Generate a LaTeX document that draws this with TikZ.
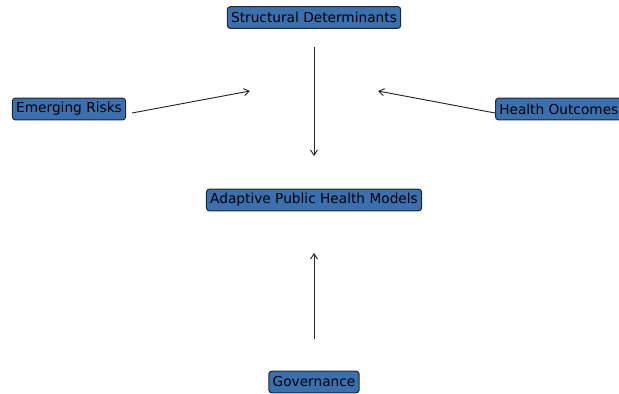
\documentclass[tikz,border=0pt]{standalone}
\usepackage{fontspec}
\setmainfont{DejaVu Sans}
\usetikzlibrary{arrows.meta}
\definecolor{boxblue}{RGB}{59,112,176}
\begin{document}
\begin{tikzpicture}[x=0.03cm,y=-0.03cm,
        factor/.style={draw=black!85,fill=boxblue,rounded corners=2.5pt,line width=0.9pt,
            inner xsep=3.2pt,inner ysep=0pt,minimum height=18.5pt,font=\fontsize{11.7pt}{14pt}\selectfont},
        link/.style={-{Straight Barb[length=4.5pt,width=6pt]},line width=0.8pt,black!85}]
        \useasboundingbox (0,0) rectangle (619,393);

        \node[factor] (struct) at (314,17.5) {Structural Determinants};
        \node[factor] (risks) at (69,109) {Emerging Risks};
        \node[factor,anchor=west] (outcomes) at (495,109) {Health Outcomes};
        \node[factor] (model) at (314,200) {Adaptive Public Health Models};
        \node[factor] (gov) at (314,382) {Governance};

        \coordinate (structA) at (314,47);
        \coordinate (structB) at (314,156);
        \coordinate (risksA) at (132,113);
        \coordinate (risksB) at (250,91);
        \coordinate (outA) at (495,113);
        \coordinate (outB) at (378,91);
        \coordinate (govA) at (314,339);
        \coordinate (govB) at (314,253);

        \draw[link] (structA) -- (structB);
        \draw[link] (risksA) -- (risksB);
        \draw[link] (outA) -- (outB);
        \draw[link] (govA) -- (govB);
    \end{tikzpicture}
\end{document}
